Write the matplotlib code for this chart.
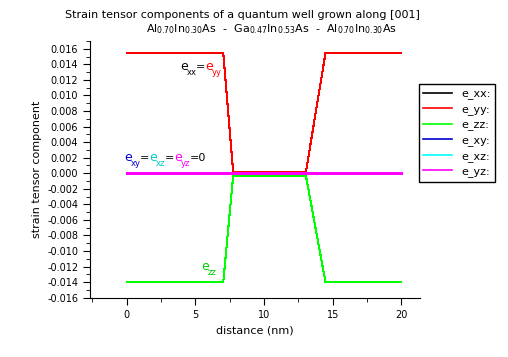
import matplotlib
matplotlib.use("Agg")
import matplotlib.pyplot as plt
from matplotlib.ticker import MultipleLocator, FormatStrFormatter

plt.rcParams['font.family'] = ['DejaVu Sans']
plt.rcParams['mathtext.default'] = 'regular'
plt.rcParams['axes.unicode_minus'] = False

# data
distance = [0, 7.03, 7.75, 13.05, 14.47, 20]
e_xx = [0.01545, 0.01545, 0.0002, 0.0002, 0.01545, 0.01545]
e_yy = [0.01545, 0.01545, 0.0002, 0.0002, 0.01545, 0.01545]
e_zz = [-0.0140, -0.0140, -0.00035, -0.00035, -0.0140, -0.0140]
e_xy = [0, 0, 0, 0, 0, 0]
e_xz = [0, 0, 0, 0, 0, 0]
e_yz = [0, 0, 0, 0, 0, 0]

series = [("e_xx:", e_xx, "black"), ("e_yy:", e_yy, "#ff0000"),
          ("e_zz:", e_zz, "#00ff00"), ("e_xy:", e_xy, "#0000cc"),
          ("e_xz:", e_xz, "#00ffff"), ("e_yz:", e_yz, "#ff00ff")]

W, H = 508, 357
fig = plt.figure(figsize=(W / 100, H / 100), dpi=100)
ax = fig.add_axes([90 / W, 1 - 297.7 / H, 330 / W, 256.7 / H])

for name, vals, col in series:
    ax.plot(distance, vals, color=col, lw=0.75, label=name, antialiased=False)

ax.set_xlim(-2.67, 21.35)
ax.set_ylim(-0.016, 0.0170)
ax.spines['top'].set_visible(False)
ax.spines['right'].set_visible(False)
ax.xaxis.set_major_locator(MultipleLocator(5))
ax.xaxis.set_minor_locator(MultipleLocator(2.5))
ax.yaxis.set_major_locator(MultipleLocator(0.002))
ax.yaxis.set_minor_locator(MultipleLocator(0.001))
ax.yaxis.set_major_formatter(FormatStrFormatter('%.3f'))
ax.tick_params(which='major', length=5, labelsize=7)
ax.tick_params(which='minor', length=3)
ax.set_xlabel("distance (nm)", fontsize=8)
ax.set_ylabel("strain tensor component", fontsize=8)

leg = fig.legend(loc='upper left', bbox_to_anchor=(419 / W, 1 - 84 / H),
                 bbox_transform=fig.transFigure, fontsize=8, fancybox=False,
                 edgecolor='black', framealpha=1, handlelength=2.6,
                 borderaxespad=0, labelspacing=0.42)
leg.get_frame().set_linewidth(1)
for h in leg.get_lines():
    h.set_linewidth(1.2)


def ftext(x, y, s, color='black', size=8):
    fig.text(x / W, 1 - y / H, s, color=color, fontsize=size, va='baseline')


def strain(x, y, sub, color):
    # "e" with a lowered subscript, drawn as two texts like the original
    ftext(x, y, "e", color=color, size=9)
    ftext(x + 7, y + 5, sub, color=color, size=6)


ftext(65, 18, "Strain tensor components of a quantum well grown along [001]")
ftext(146, 32, r"Al$_{0.70}$In$_{0.30}$As  -  Ga$_{0.47}$In$_{0.53}$As  -  Al$_{0.70}$In$_{0.30}$As")

strain(180, 70, "xx", "black")
ftext(196, 70, "=", size=8)
strain(205, 70, "yy", "#ff0000")

strain(124, 161, "xy", "#0000cc")
ftext(140, 161, "=", size=8)
strain(149, 161, "xz", "#00cccc")
ftext(165, 161, "=", size=8)
strain(174, 161, "yz", "#ff00ff")
ftext(190, 161, "=0", size=8)

strain(201, 270, "zz", "#00cc00")

fig.savefig("out.png", dpi=100)
